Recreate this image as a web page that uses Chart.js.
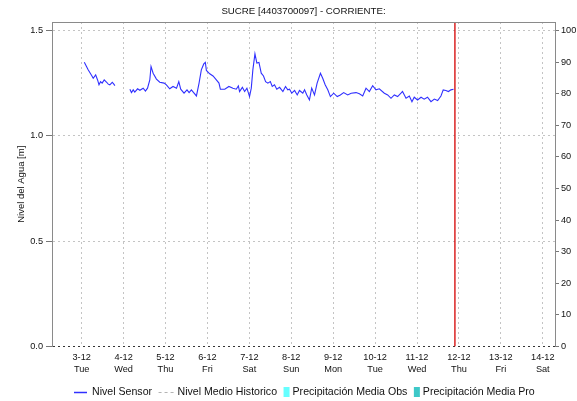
<!DOCTYPE html>
<html>
<head>
<meta charset="utf-8">
<script src="https://cdn.jsdelivr.net/npm/chart.js@4"></script>
<style>
    html, body { margin: 0; padding: 0; background: #fff; }
    #wrap { width: 577px; height: 401px; }
</style>
</head>
<body>
<div id="wrap"><canvas id="grafico"></canvas></div>
<script>
// horas contadas desde 2-12 00:00
const horasSensor = [
    25.5, 27.7, 29.7, 30.6, 32.0, 33.1, 33.9, 34.8, 35.7, 36.9, 38.3, 39.2, 40.1, 41.5, 42.4, 43.0,
    47.0,
    51.6, 52.5, 53.5, 54.4, 56.0, 57.3, 59.2, 60.5, 61.7, 63.0, 63.7, 64.9, 66.8, 68.7, 71.2, 72.5,
    74.4, 76.3, 78.3, 79.6, 80.7, 82.6, 84.3, 85.5, 86.8, 88.1, 89.7, 91.2, 92.5, 93.9, 94.8, 95.4,
    97.3, 99.2, 101.1, 102.6, 103.4, 105.9, 108.3, 110.6, 112.5, 113.7, 114.4, 116.0, 117.3, 118.6,
    120.1, 121.1, 122.0, 123.2, 124.3, 125.5, 126.8, 128.1, 129.3, 130.6, 132.0, 133.1, 134.4, 135.7,
    137.3, 139.2, 140.7, 142.0, 143.0, 144.3, 145.9, 147.4, 148.7, 150.6, 151.6, 152.9, 154.4, 155.7,
    157.3, 158.8, 160.7, 162.0, 163.4, 164.9, 166.4, 168.3, 170.3, 172.1, 174.0, 176.3, 178.3, 181.1,
    183.0, 184.9, 186.8, 188.7, 190.6, 192.5, 194.4, 197.3, 199.2, 201.1, 203.0, 204.9, 206.8, 207.7,
    209.7, 211.6, 213.1, 214.4, 216.3, 218.3, 220.1, 222.0, 224.0, 225.9, 227.8, 229.7, 231.0, 232.5,
    234.0, 235.4, 236.9
];
const nivelSensor = [
    1.349, 1.313, 1.286, 1.273, 1.289, 1.265, 1.242, 1.257, 1.250, 1.265, 1.254, 1.245, 1.242, 1.254, 1.245, 1.238,
    null,
    1.221, 1.205, 1.218, 1.207, 1.223, 1.216, 1.226, 1.212, 1.226, 1.265, 1.329, 1.297, 1.269, 1.254, 1.250, 1.242,
    1.223, 1.234, 1.226, 1.257, 1.221, 1.202, 1.218, 1.205, 1.218, 1.205, 1.189, 1.250, 1.313, 1.341, 1.348, 1.310,
    1.294, 1.284, 1.265, 1.250, 1.221, 1.221, 1.234, 1.226, 1.221, 1.237, 1.210, 1.230, 1.210, 1.226,
    1.186, 1.226, 1.313, 1.389, 1.345, 1.348, 1.297, 1.284, 1.257, 1.250, 1.257, 1.234, 1.242, 1.221,
    1.230, 1.210, 1.234, 1.218, 1.221, 1.202, 1.215, 1.194, 1.215, 1.202, 1.218, 1.194, 1.170, 1.226,
    1.194, 1.250, 1.297, 1.273, 1.242, 1.218, 1.186, 1.202, 1.186, 1.194, 1.205, 1.194, 1.202, 1.205,
    1.199, 1.189, 1.226, 1.210, 1.238, 1.218, 1.223, 1.202, 1.194, 1.178, 1.194, 1.186, 1.202, 1.210,
    1.178, 1.189, 1.162, 1.183, 1.170, 1.183, 1.174, 1.183, 1.162, 1.174, 1.167, 1.189, 1.218, 1.215,
    1.210, 1.218, 1.221
];
const nivelMedioHistorico = [];
const precipObs = [];
const precipPro = [];

const horaActual = 237.7;           // 11-12 21:40
const diasTicks = [24, 48, 72, 96, 120, 144, 168, 192, 216, 240, 264, 288];
const diasEtiquetas = [
    ['3-12', 'Tue'], ['4-12', 'Wed'], ['5-12', 'Thu'], ['6-12', 'Fri'], ['7-12', 'Sat'], ['8-12', 'Sun'],
    ['9-12', 'Mon'], ['10-12', 'Tue'], ['11-12', 'Wed'], ['12-12', 'Thu'], ['13-12', 'Fri'], ['14-12', 'Sat']
];
const nivelTicks = [0, 0.5, 1.0, 1.5];
const precipTicks = [0, 10, 20, 30, 40, 50, 60, 70, 80, 90, 100];

const xMin = 7, xMax = 295;
const nivelMax = 1.54, precipMax = 102.7;

const FUENTE = "'Liberation Sans', Arial, sans-serif";
const TEXTO = '#111';
const TITULO = 'SUCRE [4403700097] - CORRIENTE:';

const puntosSensor = horasSensor.map((h, i) => ({ x: h, y: nivelSensor[i] }));

// titulo, borde superior y leyenda dibujados a mano
const extrasPlugin = {
    id: 'extras',
    afterDraw(chart) {
        const ctx = chart.ctx;
        const area = chart.chartArea;
        ctx.save();

        ctx.strokeStyle = '#8a8a8a';
        ctx.lineWidth = 1;
        ctx.beginPath();
        ctx.moveTo(area.left, area.top + 0.5);
        ctx.lineTo(area.right, area.top + 0.5);
        ctx.stroke();

        ctx.fillStyle = TEXTO;
        ctx.font = '9.7px ' + FUENTE;
        ctx.textAlign = 'center';
        ctx.textBaseline = 'middle';
        ctx.fillText(TITULO, (area.left + area.right) / 2, 11);

        // leyenda
        ctx.font = '10.6px ' + FUENTE;
        ctx.textAlign = 'left';
        let x = 74;
        const y = 392;
        chart.data.datasets.forEach(ds => {
            if (!ds.label) return;
            if (ds.type === 'bar') {
                ctx.fillStyle = ds.backgroundColor;
                ctx.fillRect(x, y - 5, 6, 10);
                x += 9;
            } else {
                ctx.strokeStyle = ds.borderColor;
                ctx.lineWidth = ds.borderDash ? 1 : 1.5;
                ctx.setLineDash(ds.borderDash || []);
                ctx.beginPath();
                ctx.moveTo(x, y + 0.5);
                ctx.lineTo(x + (ds.borderDash ? 15 : 13), y + 0.5);
                ctx.stroke();
                ctx.setLineDash([]);
                x += ds.borderDash ? 19 : 18;
            }
            ctx.fillStyle = TEXTO;
            ctx.fillText(ds.label, x, y);
            x += ctx.measureText(ds.label).width + 6.5;
        });
        ctx.restore();
    }
};

new Chart(document.getElementById('grafico'), {
    type: 'line',
    data: {
        datasets: [
            {
                label: 'Nivel Sensor',
                data: puntosSensor,
                borderColor: '#3030ff',
                borderWidth: 1.1,
                pointRadius: 0,
                spanGaps: false,
                tension: 0,
                yAxisID: 'y'
            },
            {
                label: 'Nivel Medio Historico',
                data: nivelMedioHistorico,
                borderColor: '#b4b4b4',
                borderDash: [3, 3],
                borderWidth: 1,
                pointRadius: 0,
                yAxisID: 'y'
            },
            {
                type: 'bar',
                label: 'Precipitación Media Obs',
                data: precipObs,
                backgroundColor: '#66ffff',
                yAxisID: 'y2'
            },
            {
                type: 'bar',
                label: 'Precipitación Media Pro',
                data: precipPro,
                backgroundColor: '#3ec8c8',
                yAxisID: 'y2'
            },
            {
                // marca de la hora actual
                data: [{ x: horaActual, y: 0 }, { x: horaActual, y: nivelMax }],
                borderColor: '#d40000',
                borderWidth: 1.3,
                pointRadius: 0,
                yAxisID: 'y'
            }
        ]
    },
    options: {
        responsive: true,
        maintainAspectRatio: false,
        animation: false,
        events: [],
        layout: { padding: { top: 22, left: 0, right: 0, bottom: 0 } },
        plugins: {
            legend: { display: false },
            title: { display: false },
            tooltip: { enabled: false }
        },
        scales: {
            x: {
                type: 'linear',
                min: xMin,
                max: xMax,
                offset: false,
                afterBuildTicks: (s) => { s.ticks = diasTicks.map(v => ({ value: v })); },
                afterFit: (s) => { s.height = 54.5; },
                grid: {
                    color: '#c4c4c4',
                    offset: false,
                    drawTicks: false
                },
                border: { display: false, dash: [2, 3] },
                ticks: {
                    autoSkip: false,
                    maxRotation: 0,
                    padding: 5,
                    color: TEXTO,
                    font: { family: FUENTE, size: 9.2, lineHeight: 1.3 },
                    callback: (v, i) => diasEtiquetas[i]
                }
            },
            y: {
                position: 'left',
                min: 0,
                max: nivelMax,
                afterBuildTicks: (s) => { s.ticks = nivelTicks.map(v => ({ value: v })); },
                afterFit: (s) => { s.width = 52; },
                grid: {
                    color: (c) => c.tick && c.tick.value === 0 ? '#333' : '#c4c4c4',
                    tickColor: '#777',
                    tickLength: 6
                },
                border: { display: true, color: '#8a8a8a', dash: [2, 3] },
                ticks: {
                    padding: 3,
                    color: TEXTO,
                    font: { family: FUENTE, size: 9.2 },
                    callback: (v) => v.toFixed(1)
                },
                title: {
                    display: true,
                    text: 'Nivel del Agua [m]',
                    color: TEXTO,
                    font: { family: FUENTE, size: 9.5 },
                    padding: { top: 16, bottom: 0 }
                }
            },
            y2: {
                position: 'right',
                min: 0,
                max: precipMax,
                afterBuildTicks: (s) => { s.ticks = precipTicks.map(v => ({ value: v })); },
                afterFit: (s) => { s.width = 22; },
                grid: {
                    drawOnChartArea: false,
                    tickColor: '#777',
                    tickLength: 4
                },
                border: { display: true, color: '#8a8a8a' },
                ticks: {
                    padding: 2,
                    color: TEXTO,
                    font: { family: FUENTE, size: 9.2 }
                }
            }
        }
    },
    plugins: [extrasPlugin]
});
</script>
</body>
</html>
